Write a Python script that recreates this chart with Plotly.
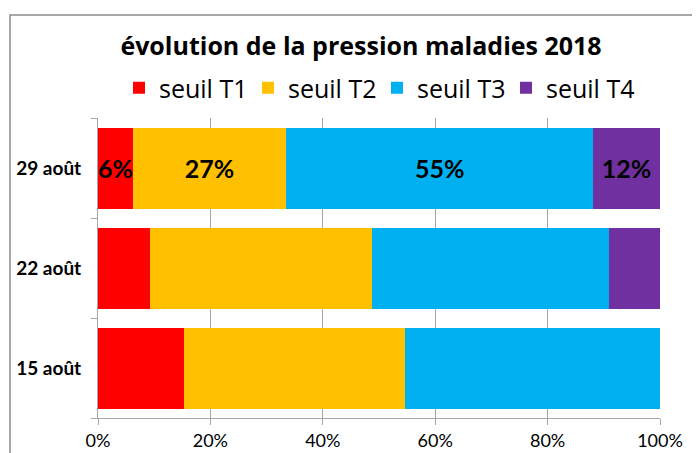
import plotly.graph_objects as go

categories = ["15 août", "22 août", "29 août"]
series_names = ["seuil T1", "seuil T2", "seuil T3", "seuil T4"]
t1 = [15.3, 9.3, 6.2]
t2 = [39.3, 39.5, 27.3]
t3 = [45.4, 42.1, 54.6]
t4 = [0.0, 9.1, 11.9]
labels_29 = ["6%", "27%", "55%", "12%"]
colors = ["#FF0000", "#FFC000", "#00B0F0", "#7030A0"]
tick_vals = [0, 20, 40, 60, 80, 100]
tick_text = ["0%", "20%", "40%", "60%", "80%", "100%"]

FONT = "Lato"
WIDE = "Open Sans"
L, T, PW, PH = 90, 110, 562, 300
fig = go.Figure()
for i, (name, vals) in enumerate(zip(series_names, [t1, t2, t3, t4])):
    txt = ["", "", labels_29[i]]
    fig.add_trace(go.Bar(
        y=categories, x=vals, name=name, orientation="h",
        marker=dict(color=colors[i], line=dict(width=0)),
        text=txt, textposition="inside", insidetextanchor="middle",
        textangle=0, constraintext="none",
        insidetextfont=dict(family=FONT, size=25, color="black", weight="bold"),
        hoverinfo="skip",
    ))

fig.update_layout(
    barmode="stack", bargap=0.19,
    width=700, height=453,
    margin=dict(l=L, r=700 - L - PW, t=T, b=453 - T - PH, autoexpand=False),
    paper_bgcolor="white", plot_bgcolor="white",
    font=dict(family=FONT, color="black"),
    title=dict(text="<b>évolution de la pression maladies 2018</b>",
               x=353 / 700, xanchor="center", y=1 - 38 / 453, yanchor="middle",
               font=dict(family=WIDE, size=25, color="black")),
    legend=dict(orientation="h", x=(111 - L) / PW, xanchor="left",
                y=1 + (T - 80) / PH, yanchor="middle",
                font=dict(family=WIDE, size=25, color="black"),
                itemwidth=30, entrywidth=84, entrywidthmode="pixels",
                traceorder="normal"),
    xaxis=dict(range=[0, 100], tickvals=tick_vals, ticktext=tick_text,
               showgrid=True, gridcolor="#A6A6A6", gridwidth=1,
               showline=True, linecolor="#A6A6A6", linewidth=1,
               ticks="outside", ticklen=6, tickcolor="#A6A6A6",
               tickfont=dict(family=FONT, size=18, color="black"),
               zeroline=False, fixedrange=True),
    yaxis=dict(showline=True, linecolor="#A6A6A6", linewidth=1,
               ticks="outside", ticklen=6, tickcolor="#A6A6A6",
               tickson="boundaries", showgrid=False,
               tickfont=dict(family=FONT, size=19, color="black", weight="bold"),
               ticklabelstandoff=12),
    shapes=[dict(type="rect", xref="paper", yref="paper",
                 x0=(2 - L) / PW, x1=1.2, y0=-0.3, y1=1 + (T - 7) / PH,
                 line=dict(color="#8C8C8C", width=1.5), fillcolor="rgba(0,0,0,0)",
                 layer="below")],
)

fig.write_html("out.html")
